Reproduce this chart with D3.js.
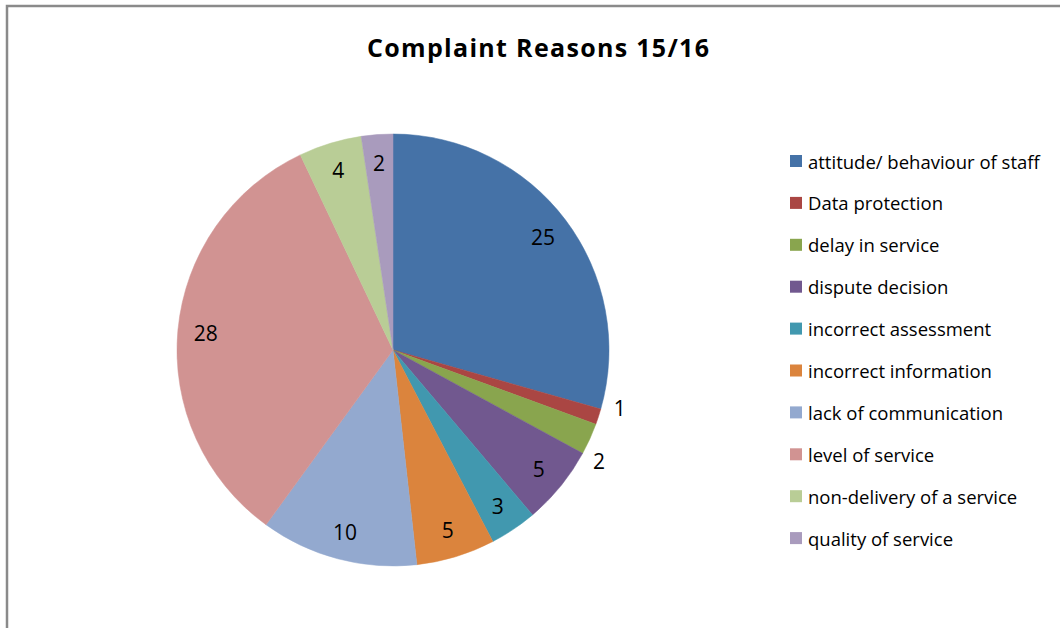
<!DOCTYPE html>
<html>
<head>
<meta charset="utf-8">
<script src="https://cdn.jsdelivr.net/npm/d3@7"></script>
<style>
  html, body { margin: 0; padding: 0; background: #fff; }
  svg { display: block; }
  text { font-family: "Open Sans", "Liberation Sans", sans-serif; fill: #000; }
</style>
</head>
<body>
<svg id="chart" width="1060" height="628"></svg>
<script>
// Complaint reasons, financial year 15/16
const categories = [
  "attitude/ behaviour of staff",
  "Data protection",
  "delay in service",
  "dispute decision",
  "incorrect assessment",
  "incorrect information",
  "lack of communication",
  "level of service",
  "non-delivery of a service",
  "quality of service"
];
const counts = [25, 1, 2, 5, 3, 5, 10, 28, 4, 2];
const colours = [
  "#4572A7", "#AA4643", "#89A54E", "#71588F", "#4198AF",
  "#DB843D", "#93A9CF", "#D19392", "#B9CD96", "#A99BBD"
];
// slices too thin to hold their label get it placed just outside
const labelOutside = [false, true, true, false, false, false, false, false, false, false];

const svg = d3.select("#chart");

// chart frame (left and top edges visible)
svg.append("rect")
  .attr("x", 7).attr("y", 6)
  .attr("width", 1100).attr("height", 700)
  .attr("fill", "none")
  .attr("stroke", "#8a8a8a")
  .attr("stroke-width", 2.5);

svg.append("text")
  .attr("x", 367).attr("y", 57)
  .attr("font-size", 25)
  .attr("font-weight", "bold")
  .attr("textLength", 342)
  .attr("lengthAdjust", "spacing")
  .text("Complaint Reasons 15/16");

const cx = 393, cy = 350, radius = 216;
const data = categories.map((c, i) => ({ name: c, value: counts[i], colour: colours[i], outside: labelOutside[i] }));

const pie = d3.pie().value(d => d.value).sort(null);
const arcs = pie(data);
const arc = d3.arc().innerRadius(0).outerRadius(radius);
const inLabel = d3.arc().innerRadius(188).outerRadius(188);
const outR = 234;

const g = svg.append("g").attr("transform", `translate(${cx},${cy})`);

g.selectAll("path.slice")
  .data(arcs)
  .join("path")
  .attr("class", "slice")
  .attr("d", arc)
  .attr("fill", d => d.data.colour)
  .attr("stroke", d => d.data.colour)
  .attr("stroke-width", 0.5);

// label positions: inside on a fixed ring; outside ones spread vertically so they don't collide
const pos = arcs.map(d => {
  if (!d.data.outside) return inLabel.centroid(d);
  const a = (d.startAngle + d.endAngle) / 2;
  return [outR * Math.sin(a), -outR * Math.cos(a)];
});
const outIdx = arcs.map((d, i) => i).filter(i => arcs[i].data.outside);
const minGap = 53;
for (let k = 1; k < outIdx.length; k++) {
  const a = pos[outIdx[k - 1]], b = pos[outIdx[k]];
  const gap = b[1] - a[1];
  if (gap < minGap) {
    const shift = (minGap - gap) / 2;
    a[1] -= shift; b[1] += shift;
  }
}
outIdx.forEach(i => {
  const y = pos[i][1];
  pos[i][0] = Math.sqrt(Math.max(0, outR * outR - y * y));
});

g.selectAll("text.value")
  .data(arcs)
  .join("text")
  .attr("class", "value")
  .attr("transform", (d, i) => `translate(${pos[i]})`)
  .attr("text-anchor", "middle")
  .attr("dominant-baseline", "central")
  .attr("font-size", 21)
  .text(d => d.data.value);

// legend
const legend = svg.append("g").attr("transform", "translate(790,161)");
const rowH = 41.9;
const items = legend.selectAll("g.item")
  .data(data)
  .join("g")
  .attr("class", "item")
  .attr("transform", (d, i) => `translate(0,${i * rowH})`);

items.append("rect")
  .attr("x", 0).attr("y", -6)
  .attr("width", 12).attr("height", 12)
  .attr("fill", d => d.colour);

items.append("text")
  .attr("x", 18).attr("y", 0)
  .attr("dominant-baseline", "central")
  .attr("font-size", 18.5)
  .text(d => d.name);
</script>
</body>
</html>
